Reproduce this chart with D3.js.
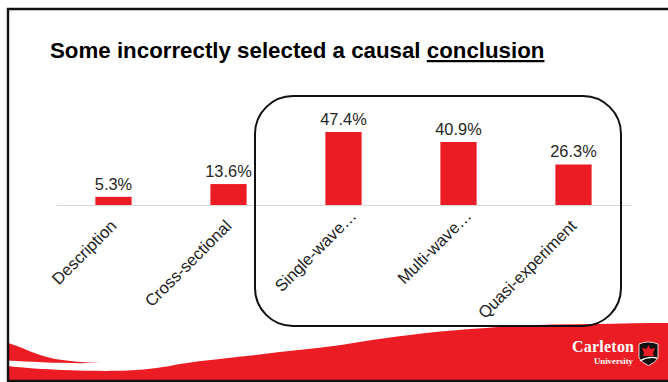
<!DOCTYPE html>
<html><head><meta charset="utf-8">
<script src="https://cdn.jsdelivr.net/npm/d3@7"></script>
<style>html,body{margin:0;padding:0;background:#fff}svg{display:block}text{font-family:"Liberation Sans",Arial,sans-serif}</style>
</head><body><div id="c"></div>
<script>
const categories=["Description","Cross-sectional","Single-wave…","Multi-wave…","Quasi-experiment"];
const values=[5.3,13.6,47.4,40.9,26.3];
const titleStart="Some incorrectly selected a causal ";
const titleUnderlined="conclusion";
const W=668,H=382;
const svg=d3.select("#c").append("svg").attr("width",W).attr("height",H);
const x=d3.scaleBand().domain(categories).range([56,631]).paddingInner(0.685).paddingOuter(0.3425);
const y=d3.scaleLinear().domain([0,47.4]).range([205,132]);
// footer swoosh
svg.append("path").attr("fill","#ec1c24").attr("d",
 "M8,366 C30,369 90,372 128,370.5 C150,369.5 165,367 180,364 C205,360 230,358 256,355 C285,351 312,349 341,345 C370,340 400,336 426,333 C445,331 465,329 486,328 C525,325 560,324 596,324 C620,323.5 645,323 668,323 L668,381 L8,381 Z");
svg.append("path").attr("fill","#ec1c24").attr("d",
 "M8,343 C20,346 35,355 55,359 C70,361.5 85,362.5 100,362.8 C70,364 35,362 8,360.5 Z");
// frame
svg.append("path").attr("fill","none").attr("stroke","#111").attr("stroke-width",2.4)
 .attr("d","M668,9 L8,9 L8,381 L668,381");
// title
const t=svg.append("text").attr("x",50).attr("y",58).attr("font-size",22.3).attr("font-weight",700).attr("fill","#000");
t.append("tspan").text(titleStart);
t.append("tspan").attr("text-decoration","underline").text(titleUnderlined);
// baseline
const axis=d3.axisBottom(x).tickSize(0).tickPadding(0);
const g=svg.append("g").attr("transform","translate(0,205)").call(axis);
g.select(".domain").attr("stroke","#d9d9d9").attr("stroke-width",1.2);
g.selectAll(".tick text").attr("font-size",16.6).attr("fill","#222").attr("text-anchor","end").attr("dy",null)
 .attr("y",0).attr("x",d=>d.endsWith("…")?14:0)
 .attr("transform","translate(4,22) rotate(-45)");
// bars
svg.selectAll("rect.bar").data(values).join("rect").attr("class","bar")
 .attr("x",(d,i)=>x(categories[i])).attr("width",x.bandwidth())
 .attr("y",d=>y(d)).attr("height",d=>y(0)-y(d)).attr("fill","#ec1c24");
svg.selectAll("text.val").data(values).join("text").attr("class","val")
 .attr("x",(d,i)=>x(categories[i])+x.bandwidth()/2).attr("y",d=>y(d)-7)
 .attr("text-anchor","middle").attr("font-size",16.4).attr("fill","#262626")
 .text(d=>d.toFixed(1)+"%");
// highlight box
svg.append("rect").attr("x",255).attr("y",96).attr("width",366).attr("height",230).attr("rx",38)
 .attr("fill","none").attr("stroke","#111").attr("stroke-width",2);
// logo
svg.append("text").attr("x",572).attr("y",352).attr("textLength",62).style("font-family","'Liberation Serif',serif").attr("font-size",16).attr("font-weight",700).attr("fill","#fff").text("Carleton");
svg.append("text").attr("x",633).attr("y",364).attr("text-anchor","end").style("font-family","'Liberation Serif',serif").attr("font-size",8.8).attr("font-weight",700).attr("fill","#fff").text("University");
svg.append("path").attr("fill","#111").attr("stroke","#fff").attr("stroke-width",.8).attr("d","M639,344 Q648,340 658,344 L658,358 Q655,363 648.5,365.5 Q642,363 639,358 Z");
svg.append("path").attr("fill","#ec1c24").attr("d","M648.5,345 L650.5,349 L655,348 L653,353 L654,356 L643,356 L644,353 L642,348 L646.5,349 Z");
svg.append("path").attr("fill","none").attr("stroke","#fff").attr("stroke-width",1.3).attr("d","M640,361 Q648,356 657,358");
</script></body></html>
